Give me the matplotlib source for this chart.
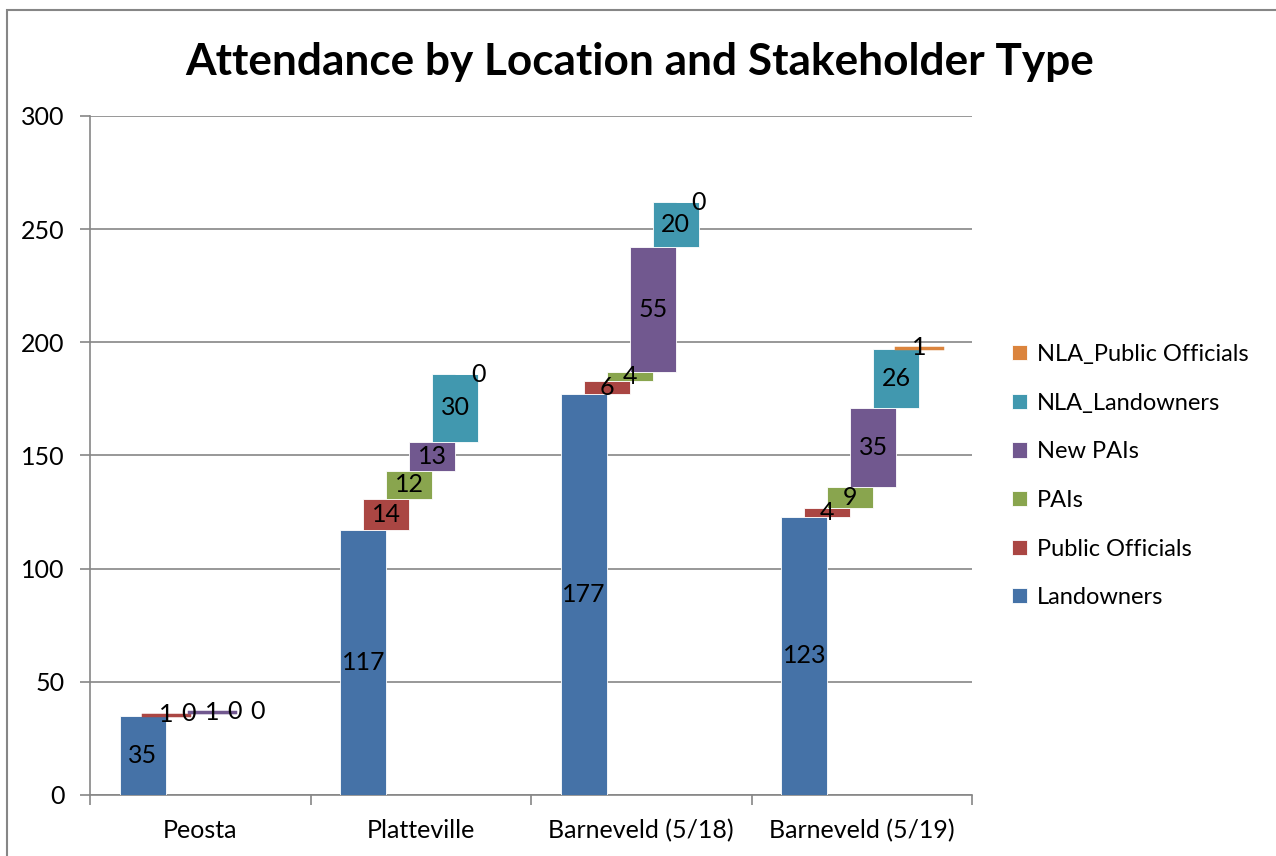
import matplotlib
matplotlib.use("Agg")
import matplotlib.pyplot as plt
from matplotlib.patches import Rectangle
import numpy as np

categories = ["Peosta", "Platteville", "Barneveld (5/18)", "Barneveld (5/19)"]
series_names = ["Landowners", "Public Officials", "PAIs", "New PAIs",
                "NLA_Landowners", "NLA_Public Officials"]
landowners = [35, 117, 177, 123]
public_officials = [1, 14, 6, 4]
pais = [0, 12, 4, 9]
new_pais = [1, 13, 55, 35]
nla_landowners = [0, 30, 20, 26]
nla_public_officials = [0, 0, 0, 1]
colors = ["#4572A7", "#AA4643", "#89A54E", "#71588F", "#4198AF", "#DB843D"]
yticks = [0, 50, 100, 150, 200, 250, 300]

series = [landowners, public_officials, pais, new_pais, nla_landowners, nla_public_officials]

plt.rcParams['font.family'] = ['Lato', 'DejaVu Sans']

fig = plt.figure(figsize=(12.76, 8.56), dpi=100)
W, H = 1276, 856

# outer chart frame
fig.patches.append(Rectangle((7 / W, -0.01), 1.02, 1 - 10 / H + 0.01, transform=fig.transFigure,
                             fill=False, edgecolor="#868686", linewidth=1.5))

ax = fig.add_axes([90 / W, (H - 795) / H, (972 - 90) / W, (795 - 116) / H])

w = 0.2086
step = w / 2
n = len(series)
start = -(w + step * (n - 1)) / 2
x = np.arange(len(categories))
bottom = np.zeros(len(categories))
handles = []
for k, (name, vals, c) in enumerate(zip(series_names, series, colors)):
    vals = np.array(vals, dtype=float)
    left = x + start + k * step
    bars = ax.bar(left, vals, width=w, bottom=bottom, align="edge", color=c,
                  edgecolor="white", linewidth=0.6, zorder=3 + k * 0.01, label=name)
    for xi, bi, vi in zip(left, bottom, vals):
        if 0 < vi < 2:
            ax.plot([xi, xi + w], [bi + vi / 2, bi + vi / 2], color=c, lw=2.5, zorder=4)
    for xi, bi, vi in zip(left, bottom, vals):
        ax.text(xi + w / 2, bi + vi / 2, f"{int(vi)}", ha="center", va="center",
                fontsize=18, color="black", zorder=10)
    bottom = bottom + vals
    handles.append(bars)

ax.set_xlim(-0.5, 3.5)
ax.set_ylim(0, 300)
ax.set_yticks(yticks)
ax.set_yticklabels([str(t) for t in yticks], fontsize=18)
ax.set_xticks(x)
ax.set_xticklabels(categories, fontsize=18)
ax.set_xticks(np.arange(-0.5, 4.0, 1.0), minor=True)
ax.tick_params(axis="x", which="major", length=0, pad=17)
ax.tick_params(axis="x", which="minor", length=7, color="#868686", width=1.2, direction="out")
ax.tick_params(axis="y", length=7, color="#868686", width=1.2, direction="out", pad=11.5)
ax.yaxis.grid(True, color="#868686", linewidth=1.2, zorder=0)
ax.set_axisbelow(True)
for s in ["top", "right"]:
    ax.spines[s].set_visible(False)
for s in ["left", "bottom"]:
    ax.spines[s].set_color("#868686")
    ax.spines[s].set_linewidth(1.2)

fig.text(640 / W, 1 - 62 / H, "Attendance by Location and Stakeholder Type",
         ha="center", va="center", fontsize=31.8, fontweight="bold")

leg = fig.legend(handles[::-1], series_names[::-1], loc="upper left",
                 bbox_to_anchor=(1012 / W, 1 - 344 / H), frameon=False, fontsize=17,
                 handlelength=0.62, handleheight=0.62, handletextpad=0.45, labelspacing=1.17,
                 borderpad=0, borderaxespad=0)

fig.savefig("out.png", dpi=100)
